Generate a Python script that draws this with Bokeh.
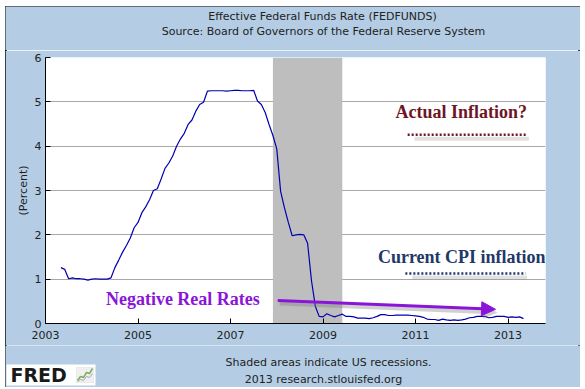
import numpy as np
from bokeh.plotting import figure
from bokeh.layouts import column
from bokeh.models import Range1d, FixedTicker, Label, BoxAnnotation, Arrow, NormalHead
from bokeh.embed import file_html
from bokeh.resources import INLINE

# ---- data: Effective Federal Funds Rate, monthly (percent) ----
first_year = 2003
first_month = 5  # series starts May 2003
rates_2003 = [1.26, 1.22, 1.01, 1.03, 1.01, 1.01, 1.00, 0.98]
rates_2004 = [1.00, 1.01, 1.00, 1.00, 1.00, 1.03, 1.26, 1.43, 1.61, 1.76, 1.93, 2.16]
rates_2005 = [2.28, 2.50, 2.63, 2.79, 3.00, 3.04, 3.26, 3.50, 3.62, 3.78, 4.00, 4.16]
rates_2006 = [4.29, 4.49, 4.59, 4.79, 4.94, 4.99, 5.24, 5.25, 5.25, 5.25, 5.25, 5.24]
rates_2007 = [5.25, 5.26, 5.26, 5.25, 5.25, 5.25, 5.26, 5.02, 4.94, 4.76, 4.49, 4.24]
rates_2008 = [3.94, 2.98, 2.61, 2.28, 1.98, 2.00, 2.01, 2.00, 1.81, 0.97, 0.39, 0.16]
rates_2009 = [0.15, 0.22, 0.18, 0.15, 0.18, 0.21, 0.16, 0.16, 0.15, 0.12, 0.12, 0.12]
rates_2010 = [0.11, 0.13, 0.16, 0.20, 0.20, 0.18, 0.18, 0.19, 0.19, 0.19, 0.19, 0.18]
rates_2011 = [0.17, 0.16, 0.14, 0.10, 0.09, 0.09, 0.07, 0.10, 0.08, 0.07, 0.08, 0.07]
rates_2012 = [0.08, 0.10, 0.13, 0.14, 0.16, 0.16, 0.16, 0.13, 0.14, 0.16, 0.16, 0.16]
rates_2013 = [0.14, 0.15, 0.14, 0.15, 0.11]

recession_start = 2007 + 11 / 12   # Dec 2007
recession_end = 2009 + 5 / 12      # Jun 2009

x_ticks = [2003, 2005, 2007, 2009, 2011, 2013]
y_ticks = [0, 1, 2, 3, 4, 5, 6]
grid_ticks = [1, 2, 3, 4, 5]

title_1 = "Effective Federal Funds Rate (FEDFUNDS)"
title_2 = "Source: Board of Governors of the Federal Reserve System"
y_label = "(Percent)"
note_1 = "Shaded areas indicate US recessions."
note_2 = "2013 research.stlouisfed.org"

rates = (rates_2003 + rates_2004 + rates_2005 + rates_2006 + rates_2007 + rates_2008
         + rates_2009 + rates_2010 + rates_2011 + rates_2012 + rates_2013)
dates = [first_year + (first_month - 1 + i) / 12 for i in range(len(rates))]

BG = "#B4CDE4"
TXT = "#222222"
PURPLE = "#8A14D8"
MAROON = "#6E1526"
NAVY = "#1F3868"
W = 575


def no_align(f):
    try:
        f.frame_align = False
    except Exception:
        pass


def banner(height):
    f = figure(width=W, height=height, output_backend="svg", toolbar_location=None,
               x_range=Range1d(0, W), y_range=Range1d(0, height),
               x_axis_type=None, y_axis_type=None, min_border=0)
    f.grid.visible = False
    f.outline_line_color = None
    f.background_fill_color = BG
    f.border_fill_color = BG
    no_align(f)
    return f


def plain(f, x, y, text, size="11px", align="center"):
    f.add_layout(Label(x=x, y=y, text=text, text_font="DejaVu Sans", text_font_size=size,
                       text_color=TXT, text_align=align, text_baseline="middle"))


# ---- header ----
head = banner(44)
plain(head, 317, 34, title_1)
plain(head, 318, 19, title_2)

# ---- main chart ----
p = figure(width=W, height=295, output_backend="svg", toolbar_location=None,
           x_range=Range1d(2003, 2013.81), y_range=Range1d(0, 6),
           min_border_left=40, min_border_right=35, min_border_top=7, min_border_bottom=22)
p.border_fill_color = BG
p.background_fill_color = "white"
p.outline_line_color = None
no_align(p)

p.xaxis.ticker = FixedTicker(ticks=x_ticks)
p.yaxis.ticker = FixedTicker(ticks=y_ticks)
for ax in (p.xaxis[0], p.yaxis[0]):
    ax.axis_line_color = "black"
    ax.major_tick_line_color = "black"
    ax.major_tick_in = 5
    ax.major_tick_out = 0
    ax.minor_tick_line_color = None
    ax.major_label_text_font = "DejaVu Sans"
    ax.major_label_text_font_size = "11px"
    ax.major_label_text_color = TXT
p.xaxis.major_label_standoff = 7
p.yaxis.major_label_standoff = 4
p.yaxis.axis_label = y_label
p.yaxis.axis_label_text_font = "DejaVu Sans"
p.yaxis.axis_label_text_font_size = "11px"
p.yaxis.axis_label_text_font_style = "normal"
p.yaxis.axis_label_text_color = TXT
p.yaxis.axis_label_standoff = 2
p.xgrid.grid_line_color = None
p.ygrid.ticker = FixedTicker(ticks=grid_ticks)
p.ygrid.grid_line_color = "#A8A8A8"

# recession shading
p.add_layout(BoxAnnotation(left=recession_start, right=recession_end, fill_color="#BEBEBE",
                           fill_alpha=1, line_color=None, level="underlay"))

p.line(dates, rates, line_color="#0000B0", line_width=1.2)


def alabel(x, y, text, color):
    p.add_layout(Label(x=x, y=y, text=text, text_font="Liberation Serif", text_font_style="bold",
                       text_font_size="18px", text_color=color, text_align="center",
                       text_baseline="middle"))


alabel(2011.99, 4.78, "Actual Inflation?", MAROON)
alabel(2012.0, 1.50, "Current CPI inflation", NAVY)
alabel(2005.97, 0.55, "Negative Real Rates", PURPLE)

# dotted lines with soft shadows
for (x0, x1, yy, col) in [(2010.83, 2013.42, 4.26, MAROON), (2010.78, 2013.38, 1.13, NAVY)]:
    p.add_layout(Arrow(x_start=x0 + 0.15, y_start=yy - 0.09, x_end=x1 + 0.03, y_end=yy - 0.09,
                       end=None, line_color="#888888", line_alpha=0.25, line_width=4))
    p.add_layout(Arrow(x_start=x0, y_start=yy, x_end=x1, y_end=yy, end=None,
                       line_color=col, line_width=2.5, line_dash="2 2"))

# arrow with shadow
p.add_layout(Arrow(x_start=2008.06, y_start=0.45, x_end=2012.77, y_end=0.25,
                   line_color="#777777", line_alpha=0.35, line_width=4,
                   end=NormalHead(size=14, fill_color="#777777", fill_alpha=0.35, line_color=None)))
p.add_layout(Arrow(x_start=2008.02, y_start=0.52, x_end=2012.73, y_end=0.32,
                   line_color=PURPLE, line_width=3,
                   end=NormalHead(size=14, fill_color=PURPLE, line_color=PURPLE)))

# ---- footer ----
foot = banner(42)
plain(foot, 323, 25, note_1)
plain(foot, 318, 8, note_2)
# FRED logo
foot.add_layout(BoxAnnotation(left=1, right=90, bottom=2, top=23, fill_color="white",
                              fill_alpha=1, line_color=None, level="underlay"))
foot.add_layout(Label(x=5, y=13, text="FRED", text_font="DejaVu Sans", text_font_style="bold",
                      text_font_size="19px", text_color="#1a1a1a", text_align="left",
                      text_baseline="middle"))
foot.add_layout(BoxAnnotation(left=71, right=88, bottom=5, top=20, fill_color="#F0F0F0",
                              fill_alpha=1, line_color="#CCCCCC", line_width=1, level="underlay"))
foot.line([72, 75, 78, 81, 84, 87], [7, 11, 10, 15, 14, 19], line_color="#7DAF5A", line_width=1.5)
foot.line([72, 75, 78, 81, 84, 87], [6, 8, 7, 11, 10, 14], line_color="#9AA9B8", line_width=1)

layout = column(head, p, foot, spacing=0,
                styles={"margin-left": "5px", "margin-top": "6px",
                        "outline": "2px solid #111111", "outline-offset": "-2px"})

open("out.html", "w").write(file_html(layout, INLINE))
